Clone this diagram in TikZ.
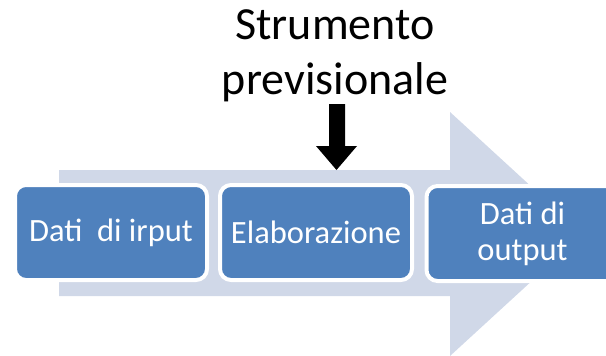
\documentclass[tikz,border=0pt]{standalone}
\usepackage{fontspec}
\setmainfont{Carlito}
\definecolor{boxblue}{HTML}{4F81BD}
\definecolor{arrowblue}{HTML}{D0D8E8}
\begin{document}
\begin{tikzpicture}[x=1pt,y=-1pt,
  stagebox/.style={rectangle, rounded corners=11pt, fill=boxblue, draw=white, line width=4pt,
    minimum width=192pt, minimum height=95pt, inner sep=0pt, text=white, align=center,
    font=\fontsize{32.5}{36}\selectfont},
  titletext/.style={align=center, inner sep=0pt, font=\fontsize{46}{55}\selectfont}]
\useasboundingbox (0,0) rectangle (606,356);
\clip (0,0) rectangle (606,356);
% big background arrow
\fill[arrowblue] (59,170) -- (450,170) -- (450,112) -- (583,234) -- (450,356) -- (450,296) -- (59,296) -- cycle;
% stage boxes
\node[stagebox] (input) at (111,232.5) {Dati\ \ di irput};
\node[stagebox] (elab) at (316,232.5) {Elaborazione};
\node[stagebox] (output) at (522.5,233.5) {Dati di\\output};
% title
\node[titletext] (title) at (335,56) {Strumento\\previsionale};
% black block arrow
\fill[black] (329,104) -- (345,104) -- (345,146) -- (357,146) -- (336.5,170) -- (316,146) -- (329,146) -- cycle;
\end{tikzpicture}
\end{document}
